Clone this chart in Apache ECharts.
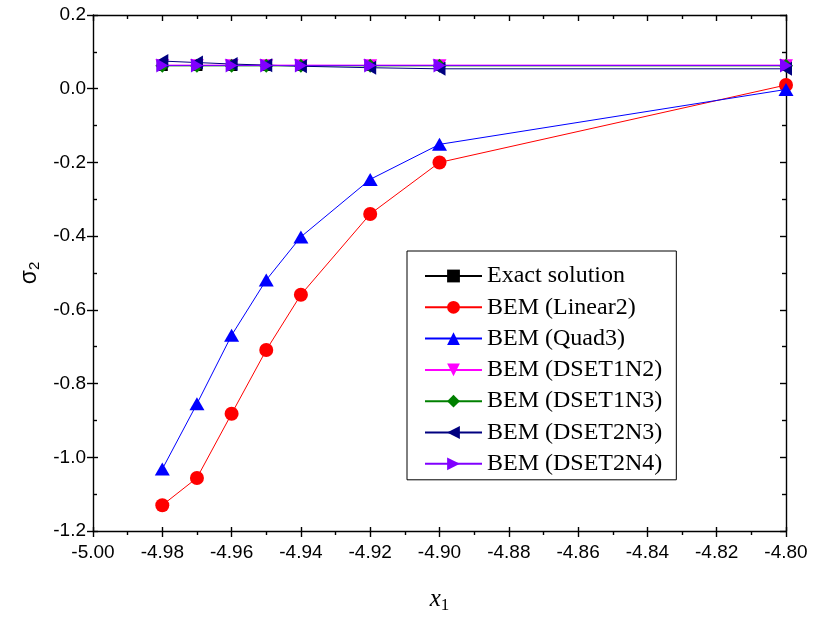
<!DOCTYPE html>
<html>
<head>
<meta charset="utf-8">
<script src="https://cdn.jsdelivr.net/npm/echarts@6/dist/echarts.min.js"></script>
<style>html,body{margin:0;padding:0;background:#fff;}#c{width:814px;height:619px;}</style>
</head>
<body>
<div id="c"></div>
<script>
const xValues = [-4.98, -4.97, -4.96, -4.95, -4.94, -4.92, -4.90, -4.80];
const exactSolution = [0.063, 0.063, 0.063, 0.063, 0.063, 0.063, 0.063, 0.063];
const bemLinear2 = [-1.130, -1.056, -0.882, -0.709, -0.559, -0.340, -0.200, 0.010];
const bemQuad3 = [-1.032, -0.855, -0.669, -0.519, -0.402, -0.246, -0.151, -0.002];
const bemDSET1N2 = [0.064, 0.064, 0.064, 0.064, 0.064, 0.064, 0.064, 0.064];
const bemDSET1N3 = [0.062, 0.062, 0.062, 0.062, 0.062, 0.062, 0.062, 0.062];
const bemDSET2N3 = [0.075, 0.071, 0.067, 0.064, 0.061, 0.057, 0.054, 0.054];
const bemDSET2N4 = [0.063, 0.063, 0.063, 0.063, 0.063, 0.063, 0.063, 0.063];
const seriesNames = ['Exact solution', 'BEM (Linear2)', 'BEM (Quad3)', 'BEM (DSET1N2)', 'BEM (DSET1N3)', 'BEM (DSET2N3)', 'BEM (DSET2N4)'];

const X_MIN = -5.00, X_MAX = -4.80, X_INT = 0.02;
const Y_MIN = -1.2, Y_MAX = 0.2, Y_INT = 0.2;

function pairs(ys) { return xValues.map((x, i) => [x, ys[i]]); }

const styles = [
  { data: exactSolution, color: '#000000', symbol: 'rect', size: 11, rot: 0 },
  { data: bemLinear2, color: '#ff0000', symbol: 'circle', size: 14, rot: 0 },
  { data: bemQuad3, color: '#0000ff', symbol: 'triangle', size: [15, 13], rot: 0 },
  { data: bemDSET1N2, color: '#ff00ff', symbol: 'triangle', size: [14, 12], rot: 180 },
  { data: bemDSET1N3, color: '#008000', symbol: 'diamond', size: 14, rot: 0 },
  { data: bemDSET2N3, color: '#000080', symbol: 'triangle', size: [14, 12], rot: 90 },
  { data: bemDSET2N4, color: '#8000ff', symbol: 'triangle', size: [14, 12], rot: -90 }
];

const labelFont = { fontFamily: 'Liberation Sans, Arial, sans-serif', fontSize: 19, color: '#000' };
const lineStyle = { color: '#000', width: 1.4 };

const chart = echarts.init(document.getElementById('c'), null, { renderer: 'canvas' });
chart.setOption({
  animation: false,
  backgroundColor: '#fff',
  grid: { left: 93, right: 28, top: 15, bottom: 85, containLabel: false },
  legend: {
    orient: 'vertical',
    left: 407,
    top: 251,
    padding: [13, 14, 4, 17],
    borderColor: '#000',
    borderWidth: 1,
    itemWidth: 57,
    itemHeight: 16,
    itemGap: 7.3,
    textStyle: { fontFamily: 'Liberation Serif, Times New Roman, serif', fontSize: 24, color: '#000', padding: [0, 0, 0, 0] },
    data: seriesNames
  },
  xAxis: [
    {
      type: 'value', position: 'bottom', min: X_MIN, max: X_MAX, interval: X_INT,
      axisLine: { show: true, onZero: false, lineStyle: lineStyle },
      axisTick: { show: true, inside: false, length: 6, lineStyle: lineStyle },
      minorTick: { show: true, splitNumber: 2, length: 4, lineStyle: lineStyle },
      splitLine: { show: false },
      axisLabel: Object.assign({ margin: 12, formatter: v => v.toFixed(2) }, labelFont),
      name: '{i|x}{s|1}',
      nameLocation: 'middle',
      nameGap: 54,
      nameTextStyle: {
        rich: {
          i: { fontFamily: 'Liberation Serif, serif', fontStyle: 'italic', fontSize: 25, color: '#000' },
          s: { fontFamily: 'Liberation Serif, serif', fontSize: 17, color: '#000', padding: [12, 0, 0, 0] }
        }
      }
    },
    {
      type: 'value', position: 'bottom', min: X_MIN, max: X_MAX, interval: X_INT,
      axisLine: { show: false, onZero: false },
      axisTick: { show: true, inside: true, length: 4, lineStyle: lineStyle },
      minorTick: { show: false },
      splitLine: { show: false },
      axisLabel: { show: false }
    },
    {
      type: 'value', position: 'top', min: X_MIN, max: X_MAX, interval: X_INT,
      axisLine: { show: true, onZero: false, lineStyle: lineStyle },
      axisTick: { show: true, inside: true, length: 6, lineStyle: lineStyle },
      minorTick: { show: true, splitNumber: 2, length: 4, lineStyle: lineStyle },
      splitLine: { show: false },
      axisLabel: { show: false }
    }
  ],
  yAxis: [
    {
      type: 'value', position: 'left', min: Y_MIN, max: Y_MAX, interval: Y_INT,
      axisLine: { show: true, onZero: false, lineStyle: lineStyle },
      axisTick: { show: true, inside: true, length: 5, lineStyle: lineStyle },
      minorTick: { show: true, splitNumber: 2, length: 4, lineStyle: lineStyle },
      splitLine: { show: false },
      axisLabel: Object.assign({ margin: 7, formatter: v => v.toFixed(1) }, labelFont),
      name: '{g|σ}{s|2}',
      nameLocation: 'middle',
      nameRotate: 90,
      nameGap: 36,
      nameTextStyle: {
        rich: {
          g: { fontFamily: 'Liberation Sans, Arial, sans-serif', fontSize: 23, color: '#000' },
          s: { fontFamily: 'Liberation Sans, Arial, sans-serif', fontSize: 15, color: '#000', padding: [11, 0, 0, 0] }
        }
      }
    },
    {
      type: 'value', position: 'left', min: Y_MIN, max: Y_MAX, interval: Y_INT,
      axisLine: { show: false, onZero: false },
      axisTick: { show: true, inside: false, length: 6, lineStyle: lineStyle },
      minorTick: { show: false },
      splitLine: { show: false },
      axisLabel: { show: false }
    },
    {
      type: 'value', position: 'right', min: Y_MIN, max: Y_MAX, interval: Y_INT,
      axisLine: { show: true, onZero: false, lineStyle: lineStyle },
      axisTick: { show: true, inside: true, length: 6, lineStyle: lineStyle },
      minorTick: { show: true, splitNumber: 2, length: 4, lineStyle: lineStyle },
      splitLine: { show: false },
      axisLabel: { show: false }
    }
  ],
  series: styles.map((s, i) => ({
    name: seriesNames[i],
    type: 'line',
    xAxisIndex: 0,
    yAxisIndex: 0,
    data: pairs(s.data),
    symbol: s.symbol,
    symbolSize: s.size,
    symbolRotate: s.rot,
    showSymbol: true,
    clip: false,
    z: 2 + i,
    lineStyle: { color: s.color, width: 1 },
    itemStyle: { color: s.color, borderWidth: 0 }
  }))
});
</script>
</body>
</html>
